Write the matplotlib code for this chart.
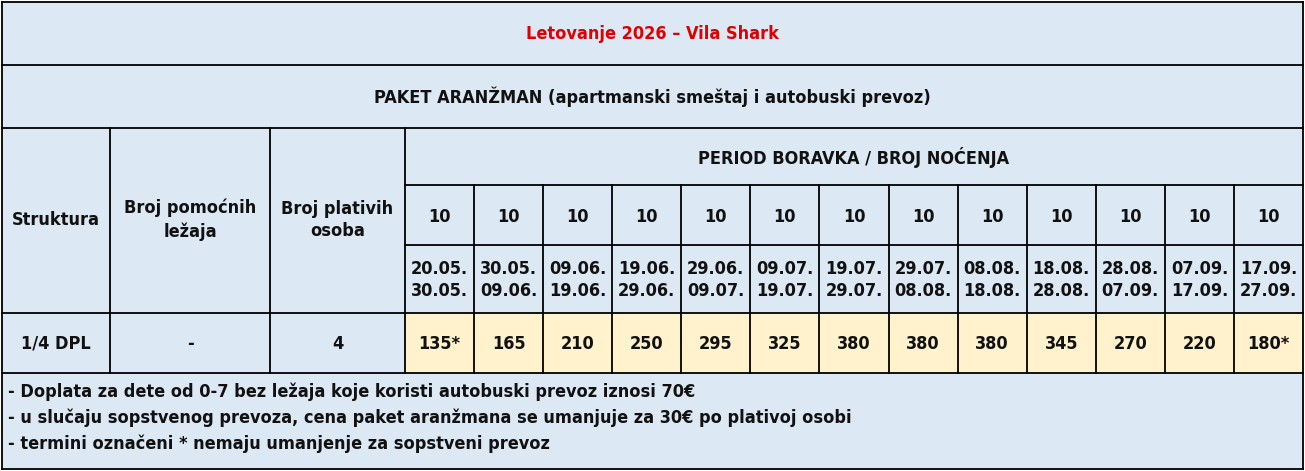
import matplotlib.pyplot as plt
from matplotlib.patches import Rectangle

title = "Letovanje 2026 – Vila Shark"
subtitle = "PAKET ARANŽMAN (apartmanski smeštaj i autobuski prevoz)"
period_header = "PERIOD BORAVKA / BROJ NOĆENJA"
left_headers = ["Struktura", "Broj pomoćnih\nležaja", "Broj plativih\nosoba"]
nights = [10] * 13
date_from = ["20.05.", "30.05.", "09.06.", "19.06.", "29.06.", "09.07.", "19.07.",
             "29.07.", "08.08.", "18.08.", "28.08.", "07.09.", "17.09."]
date_to = ["30.05.", "09.06.", "19.06.", "29.06.", "09.07.", "19.07.", "29.07.",
           "08.08.", "18.08.", "28.08.", "07.09.", "17.09.", "27.09."]
row_label = ["1/4 DPL", "-", "4"]
prices = ["135*", "165", "210", "250", "295", "325", "380", "380", "380", "345", "270", "220", "180*"]
notes = [
    "- Doplata za dete od 0-7 bez ležaja koje koristi autobuski prevoz iznosi 70€",
    "- u slučaju sopstvenog prevoza, cena paket aranžmana se umanjuje za 30€ po plativoj osobi",
    "- termini označeni * nemaju umanjenje za sopstveni prevoz",
]

W, H = 1305, 471
blue = "#dde8f5"
yellow = "#fff2cc"
lw = 1.3
font = dict(family="DejaVu Sans", stretch="condensed", weight="bold",
            fontsize=13, color="#111111")

fig = plt.figure(figsize=(W / 100, H / 100), dpi=100)
ax = fig.add_axes([0, 0, 1, 1])
ax.set_xlim(0, W)
ax.set_ylim(H, 0)
ax.axis("off")

x0, x1 = 2, 1303
left_x = [x0, 110, 270, 405]
ncol = len(prices)
cw = (x1 - 405) / ncol
col_x = [405 + i * cw for i in range(ncol + 1)]

ax.add_patch(Rectangle((x0, 2), x1 - x0, 467, facecolor=blue, edgecolor="none"))
for i in range(ncol):
    ax.add_patch(Rectangle((col_x[i], 313), cw, 60, facecolor=yellow, edgecolor="none"))

def hline(y, a, b):
    ax.plot([a, b], [y, y], color="black", lw=lw, solid_capstyle="projecting")

def vline(x, a, b):
    ax.plot([x, x], [a, b], color="black", lw=lw, solid_capstyle="projecting")

for y in [2, 65, 128, 313, 373, 469]:
    hline(y, x0, x1)
hline(185, 405, x1)
hline(245, 405, x1)
vline(x0, 2, 469)
vline(x1, 2, 469)
for x in left_x[1:]:
    vline(x, 128, 373)
for x in col_x[1:-1]:
    vline(x, 185, 373)

ax.text(W / 2, 34, title, ha="center", va="center", **{**font, "color": "#e00000"})
ax.text(W / 2, 97, subtitle, ha="center", va="center", **font)
ax.text((405 + x1) / 2, 157, period_header, ha="center", va="center", **font)
for i, h in enumerate(left_headers):
    ax.text((left_x[i] + left_x[i + 1]) / 2, 220, h, ha="center", va="center",
            linespacing=1.35, **font)
    ax.text((left_x[i] + left_x[i + 1]) / 2, 344, row_label[i], ha="center", va="center", **font)
for i in range(ncol):
    cx = (col_x[i] + col_x[i + 1]) / 2
    ax.text(cx, 217, str(nights[i]), ha="center", va="center", **font)
    ax.text(cx, 280, date_from[i] + "\n" + date_to[i], ha="center", va="center",
            linespacing=1.35, **font)
    ax.text(cx, 344, prices[i], ha="center", va="center", **font)
for j, n in enumerate(notes):
    ax.text(8, 392 + j * 26, n, ha="left", va="center", **font)

fig.savefig("out.png", dpi=100)
